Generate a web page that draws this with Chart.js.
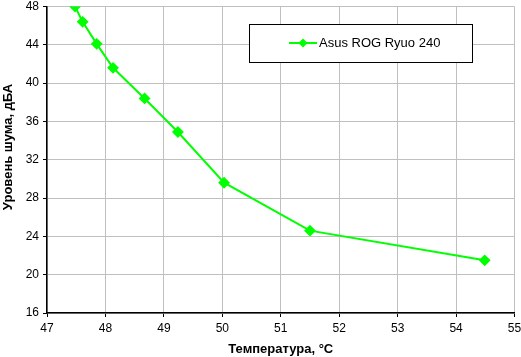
<!DOCTYPE html>
<html><head><meta charset="utf-8">
<script src="https://cdn.jsdelivr.net/npm/chart.js@4"></script>
<style>html,body{margin:0;padding:0;background:#fff}#wrap{width:521px;height:357px}</style>
</head><body><div id="wrap"><canvas id="c"></canvas></div>
<script>
const seriesName = "Asus ROG Ryuo 240";
const temperatures = [47.48, 47.61, 47.85, 48.13, 48.67, 49.24, 50.03, 51.50, 54.49];
const noiseLevels = [48.0, 46.4, 44.1, 41.6, 38.4, 34.9, 29.6, 24.6, 21.5];
const xTicks = [47, 48, 49, 50, 51, 52, 53, 54, 55];
const yTicks = [16, 20, 24, 28, 32, 36, 40, 44, 48];
const xTitle = "Температура, °C";
const yTitle = "Уровень шума, дБА";

const font = "'Liberation Sans', Arial, sans-serif";
const points = temperatures.map((t, i) => ({x: t, y: noiseLevels[i]}));

const legendBox = {
  id: 'legendBox',
  afterDraw(chart) {
    const ctx = chart.ctx;
    const ds = chart.data.datasets[0];
    const x0 = 249.5, y0 = 24.5, w = 223, h = 38;
    ctx.save();
    ctx.fillStyle = '#fff';
    ctx.fillRect(x0, y0, w, h);
    ctx.strokeStyle = '#000';
    ctx.lineWidth = 1;
    ctx.strokeRect(x0, y0, w, h);
    const cy = y0 + h / 2 - 0.5;
    ctx.strokeStyle = ds.borderColor;
    ctx.lineWidth = 2;
    ctx.beginPath();
    ctx.moveTo(289, cy); ctx.lineTo(317, cy); ctx.stroke();
    ctx.fillStyle = ds.pointBackgroundColor;
    ctx.beginPath();
    const mx = 303, r = 4.5;
    ctx.moveTo(mx, cy - r); ctx.lineTo(mx + r, cy); ctx.lineTo(mx, cy + r); ctx.lineTo(mx - r, cy); ctx.closePath();
    ctx.fill();
    ctx.fillStyle = '#000';
    ctx.font = "13px " + font;
    ctx.textBaseline = 'middle';
    ctx.fillText(ds.label, 319, cy + 0.5);
    // y axis title
    ctx.save();
    ctx.translate(8, 147);
    ctx.rotate(-Math.PI / 2);
    ctx.font = "bold 13px " + font;
    ctx.textAlign = 'center';
    ctx.textBaseline = 'middle';
    ctx.fillText(yTitle, 0, 0);
    ctx.restore();
    ctx.restore();
  }
};

new Chart(document.getElementById('c'), {
  type: 'line',
  data: {
    datasets: [{
      label: seriesName,
      data: points,
      borderColor: '#00ff00',
      backgroundColor: '#00ff00',
      pointBackgroundColor: '#00ff00',
      pointBorderColor: '#00ff00',
      pointStyle: 'rectRot',
      pointRadius: 4.5,
      borderWidth: 2,
      tension: 0,
      fill: false
    }]
  },
  options: {
    responsive: true,
    maintainAspectRatio: false,
    animation: false,
    layout: {padding: {top: 5, right: 6, left: 0, bottom: 0}},
    plugins: {legend: {display: false}, tooltip: {enabled: false}},
    scales: {
      x: {
        type: 'linear',
        min: 47, max: 55,
        afterBuildTicks: s => { s.ticks = xTicks.map(v => ({value: v})); },
        afterFit: s => { s.height = 44; s.paddingLeft = 0; s.paddingRight = 0; },
        grid: {color: '#c0c0c0', lineWidth: 1, tickColor: '#000', tickLength: 4, drawOnChartArea: true},
        border: {color: '#000', width: 1.5},
        ticks: {color: '#000', font: {family: font, size: 12}, padding: 4, maxRotation: 0},
        title: {display: true, text: xTitle, color: '#000', font: {family: font, size: 13, weight: 'bold'}, padding: {top: 0, bottom: 0}}
      },
      y: {
        type: 'linear',
        min: 16, max: 48,
        afterBuildTicks: s => { s.ticks = yTicks.map(v => ({value: v})); },
        afterFit: s => { s.width = 47; s.paddingTop = 0; s.paddingBottom = 0; },
        grid: {color: '#c0c0c0', lineWidth: 1, tickColor: '#000', tickLength: 4},
        border: {color: '#000', width: 1.5},
        ticks: {color: '#000', font: {family: font, size: 12}, padding: 4},
        title: {display: false, text: yTitle}
      }
    }
  },
  plugins: [legendBox]
});
</script>
</body></html>
